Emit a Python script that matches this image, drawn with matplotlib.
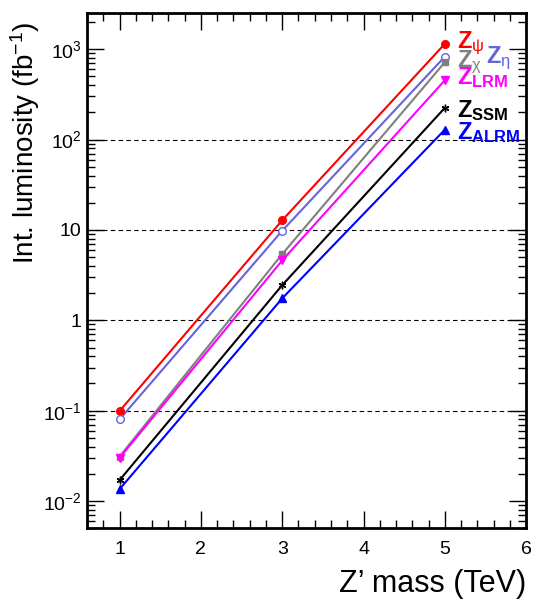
import matplotlib
matplotlib.use('Agg')
import matplotlib.pyplot as plt
from matplotlib.ticker import FixedLocator, FixedFormatter, LogLocator, MultipleLocator, NullFormatter

plt.rcParams['font.family'] = ['Liberation Sans', 'DejaVu Sans']
plt.rcParams['mathtext.fontset'] = 'custom'
plt.rcParams['mathtext.rm'] = 'Liberation Sans'
plt.rcParams['mathtext.it'] = 'Liberation Sans:italic'
plt.rcParams['mathtext.bf'] = 'Liberation Sans:bold'

# Z' mass points (TeV)
mass = [1, 3, 5]

# Integrated luminosity needed (fb^-1) per model
lumi_psi = [0.099, 12.8, 1150]
lumi_eta = [0.080, 9.8, 830]
lumi_chi = [0.031, 5.4, 720]
lumi_lrm = [0.030, 4.6, 455]
lumi_ssm = [0.017, 2.45, 225]
lumi_alrm = [0.0135, 1.75, 129]

# values, colour, marker, filled
models = [
    (lumi_psi, '#ff0000', 'o', True),
    (lumi_eta, '#6464dc', 'o', False),
    (lumi_chi, '#808080', 's', True),
    (lumi_lrm, '#ff00ff', 'v', True),
    (lumi_ssm, '#000000', (6, 2, 0), True),
    (lumi_alrm, '#0000ff', '^', True),
]

fig = plt.figure(figsize=(5.37, 6.03), dpi=100)
ax = fig.add_axes([0.162, 0.124, 0.818, 0.854])

# dashed grid lines at 0.1, 1, 10, 100
for yg in [0.1, 1, 10, 100]:
    ax.axhline(yg, color='black', linestyle=(0, (4, 3)), linewidth=0.8, zorder=0)

for vals, col, mk, filled in models:
    ax.plot(mass, vals, color=col, linewidth=1.5, zorder=2)
    ax.plot(mass, vals, linestyle='None', marker=mk, markersize=5.5 if mk != 's' else 5,
            markerfacecolor=col if filled else 'white', markeredgecolor=col,
            markeredgewidth=1.0, zorder=3)

ax.set_yscale('log')
ax.set_xlim(0.6, 6)
ax.set_ylim(0.005, 2500)

ax.xaxis.set_major_locator(MultipleLocator(1))
ax.xaxis.set_minor_locator(MultipleLocator(0.2))
ax.yaxis.set_major_locator(FixedLocator([0.01, 0.1, 1, 10, 100, 1000]))
ax.yaxis.set_major_formatter(FixedFormatter(['10$^{-2}$', '10$^{-1}$', '1', '10', '10$^{2}$', '10$^{3}$']))
ax.yaxis.set_minor_locator(LogLocator(base=10, subs=range(2, 10)))
ax.yaxis.set_minor_formatter(NullFormatter())

ax.tick_params(which='both', direction='in', top=True, right=True, labelsize=14)
ax.tick_params(which='major', length=12, width=1.0)
ax.tick_params(which='minor', length=6, width=1.0)
ax.tick_params(axis='x', pad=9)
ax.tick_params(axis='y', pad=4)
for sp in ax.spines.values():
    sp.set_linewidth(2)

ax.set_xlabel('Z\u2019 mass (TeV)', fontsize=22, loc='right', labelpad=8)
ax.set_ylabel('Int. luminosity (fb$^{-1}$)', fontsize=20, loc='top')
ax.yaxis.set_label_coords(-0.102, 0.985)

# model labels
lab_kw = dict(fontsize=17, fontweight='bold', ha='left', va='center')
ax.text(5.15, 1150, r'Z$_{\mathrm{ψ}}$', color='#ff0000', **lab_kw)
ax.text(5.15, 720, r'Z$_{\mathrm{χ}}$', color='#808080', **lab_kw)
ax.text(5.5, 800, r'Z$_{\mathrm{η}}$', color='#6464dc', **lab_kw)
ax.text(5.15, 480, r'Z$_{\mathbf{LRM}}$', color='#ff00ff', **lab_kw)
ax.text(5.15, 210, r'Z$_{\mathbf{SSM}}$', color='#000000', **lab_kw)
ax.text(5.15, 120, r'Z$_{\mathbf{ALRM}}$', color='#0000ff', **lab_kw)

fig.savefig('out.png', dpi=100)
